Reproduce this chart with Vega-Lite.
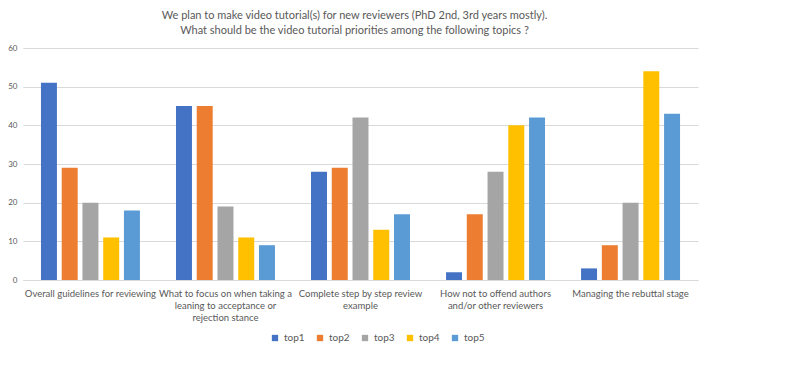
{
  "$schema": "https://vega.github.io/schema/vega-lite/v6.json",
  "width": 675,
  "height": 232,
  "autosize": {"type": "none"},
  "padding": {"left": 23, "top": 48, "right": 94, "bottom": 88},
  "background": "white",
  "title": {
    "text": ["We plan to make video tutorial(s) for new reviewers (PhD 2nd, 3rd years mostly).", "What should be the video tutorial priorities among the following topics ?"],
    "font": "Lato", "fontSize": 11, "fontWeight": "normal", "color": "#595959",
    "anchor": "middle", "lineHeight": 15, "offset": 8, "dx": -6
  },
  "data": {"values": [
    {"topic": "Overall guidelines for reviewing", "rank": "top1", "value": 51},
    {"topic": "Overall guidelines for reviewing", "rank": "top2", "value": 29},
    {"topic": "Overall guidelines for reviewing", "rank": "top3", "value": 20},
    {"topic": "Overall guidelines for reviewing", "rank": "top4", "value": 11},
    {"topic": "Overall guidelines for reviewing", "rank": "top5", "value": 18},
    {"topic": "What to focus on when taking a|leaning to acceptance or|rejection stance", "rank": "top1", "value": 45},
    {"topic": "What to focus on when taking a|leaning to acceptance or|rejection stance", "rank": "top2", "value": 45},
    {"topic": "What to focus on when taking a|leaning to acceptance or|rejection stance", "rank": "top3", "value": 19},
    {"topic": "What to focus on when taking a|leaning to acceptance or|rejection stance", "rank": "top4", "value": 11},
    {"topic": "What to focus on when taking a|leaning to acceptance or|rejection stance", "rank": "top5", "value": 9},
    {"topic": "Complete step by step review|example", "rank": "top1", "value": 28},
    {"topic": "Complete step by step review|example", "rank": "top2", "value": 29},
    {"topic": "Complete step by step review|example", "rank": "top3", "value": 42},
    {"topic": "Complete step by step review|example", "rank": "top4", "value": 13},
    {"topic": "Complete step by step review|example", "rank": "top5", "value": 17},
    {"topic": "How not to offend authors|and/or other reviewers", "rank": "top1", "value": 2},
    {"topic": "How not to offend authors|and/or other reviewers", "rank": "top2", "value": 17},
    {"topic": "How not to offend authors|and/or other reviewers", "rank": "top3", "value": 28},
    {"topic": "How not to offend authors|and/or other reviewers", "rank": "top4", "value": 40},
    {"topic": "How not to offend authors|and/or other reviewers", "rank": "top5", "value": 42},
    {"topic": "Managing the rebuttal stage", "rank": "top1", "value": 3},
    {"topic": "Managing the rebuttal stage", "rank": "top2", "value": 9},
    {"topic": "Managing the rebuttal stage", "rank": "top3", "value": 20},
    {"topic": "Managing the rebuttal stage", "rank": "top4", "value": 54},
    {"topic": "Managing the rebuttal stage", "rank": "top5", "value": 43}
  ]},
  "mark": {"type": "bar"},
  "encoding": {
    "x": {
      "field": "topic", "type": "nominal",
      "sort": ["Overall guidelines for reviewing", "What to focus on when taking a|leaning to acceptance or|rejection stance", "Complete step by step review|example", "How not to offend authors|and/or other reviewers", "Managing the rebuttal stage"],
      "scale": {"paddingInner": 0.267, "paddingOuter": 0.133},
      "axis": {
        "title": null, "labelAngle": 0, "labelExpr": "split(datum.label, '|')",
        "labelFont": "Lato", "labelFontSize": 9.5, "labelColor": "#595959",
        "labelLineHeight": 12, "ticks": false, "domainColor": "#d9d9d9",
        "labelPadding": 8, "labelLimit": 0, "labelBaseline": "top"
      }
    },
    "xOffset": {"field": "rank", "type": "nominal", "scale": {"paddingInner": 0.23, "paddingOuter": 0}},
    "y": {
      "field": "value", "type": "quantitative",
      "scale": {"domain": [0, 60]},
      "axis": {
        "title": null, "values": [0, 10, 20, 30, 40, 50, 60],
        "domain": false, "ticks": false, "gridColor": "#d9d9d9",
        "labelFont": "Lato", "labelFontSize": 8, "labelColor": "#595959", "labelPadding": 6
      }
    },
    "color": {
      "field": "rank", "type": "nominal",
      "scale": {"domain": ["top1", "top2", "top3", "top4", "top5"], "range": ["#4472C4", "#ED7D31", "#A5A5A5", "#FFC000", "#5B9BD5"]},
      "legend": {
        "title": null, "orient": "none", "legendX": 247, "legendY": 285,
        "direction": "horizontal", "symbolType": "square", "symbolSize": 40,
        "labelFont": "Lato", "labelFontSize": 10, "labelColor": "#595959",
        "columnPadding": 10, "symbolStrokeWidth": 0
      }
    }
  },
  "config": {"view": {"stroke": null}}
}
